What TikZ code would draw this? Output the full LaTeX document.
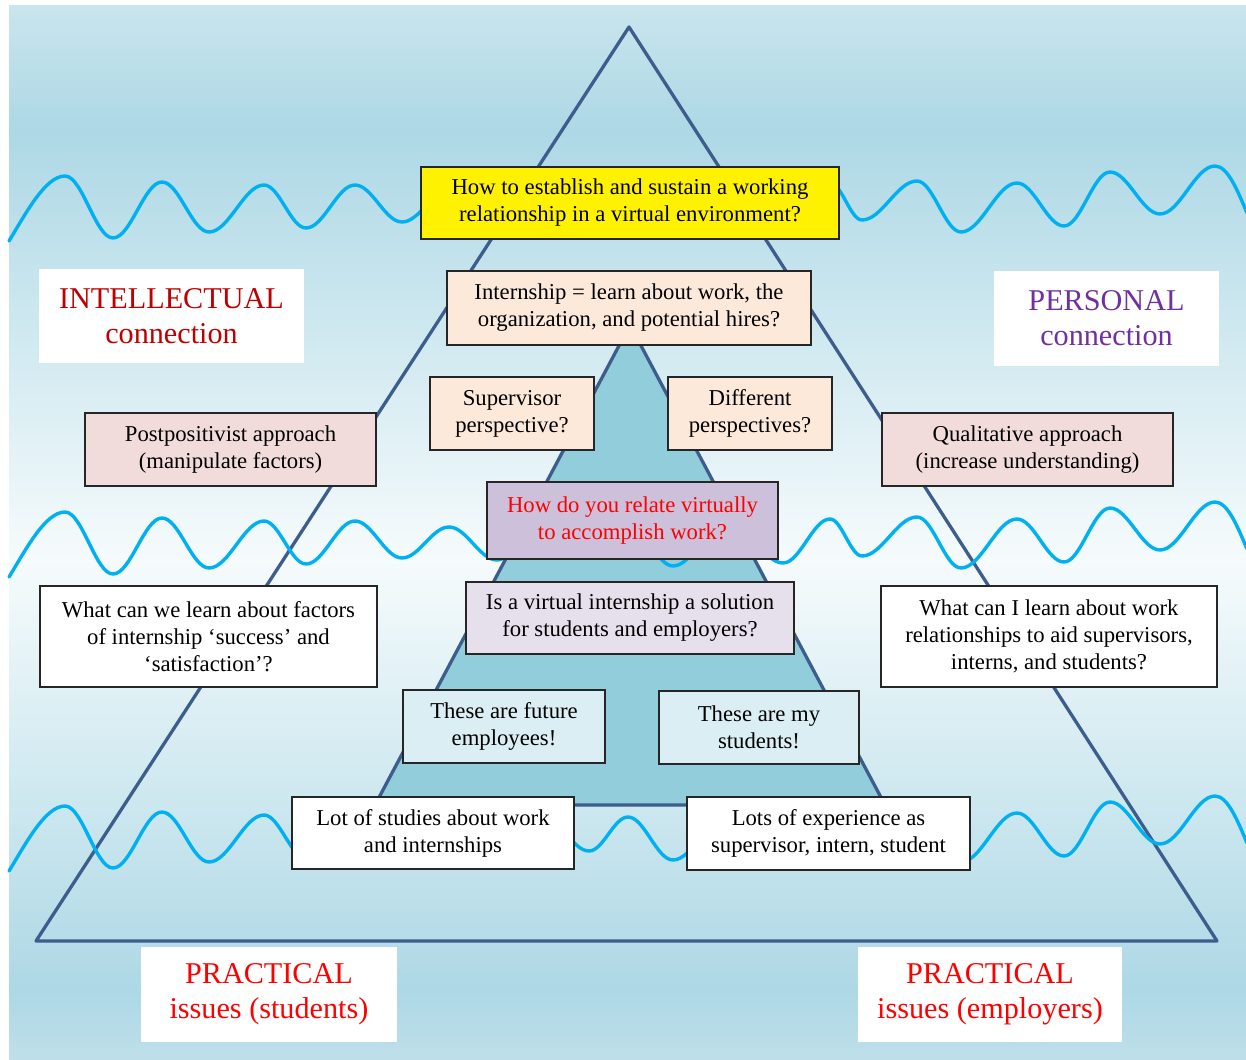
\documentclass[tikz,border=0pt]{standalone}
\usepackage{fontspec}
\setmainfont{Liberation Serif}

% palette
\definecolor{bgTop}{HTML}{C9E5ED}
\definecolor{bgBlue}{HTML}{ADD8E5}
\definecolor{bgLight}{HTML}{F6FBFC}
\definecolor{bgBot}{HTML}{BEDFE9}
\definecolor{triline}{HTML}{3D5E8C}
\definecolor{innerfill}{HTML}{92CDDC}
\definecolor{wavecol}{HTML}{00B0F0}
\definecolor{peach}{HTML}{FDE9D9}
\definecolor{rosefill}{HTML}{F2DCDB}
\definecolor{plum}{HTML}{CCC0DA}
\definecolor{lavender}{HTML}{E5E0EC}
\definecolor{paleaqua}{HTML}{DAEEF3}
\definecolor{darkred}{HTML}{C00000}
\definecolor{violet}{HTML}{7030A0}
\definecolor{brightred}{HTML}{FF0000}

\tikzset{
  qbox/.style={draw=black!85, line width=1.2pt, inner sep=0pt, align=center,
    font=\fontsize{22.7}{27}\selectfont, text=black},
  tag/.style={fill=white, inner sep=0pt, align=center,
    font=\fontsize{30.2}{35}\selectfont},
  wavepath/.style={draw=wavecol, line width=3.4pt, line cap=round, line join=round},
  triangle edge/.style={draw=triline, line width=3.3pt, line join=round},
}

\begin{document}
\begin{tikzpicture}[x=1pt,y=-1pt]
\useasboundingbox (0,0) rectangle (1246,1059);

% banded vertical gradient of the backdrop
\shade[top color=bgTop, bottom color=bgBlue] (9,6) rectangle (1246,131);
\shade[top color=bgBlue, bottom color=bgLight] (9,130) rectangle (1246,561);
\shade[top color=bgLight, bottom color=bgBlue] (9,560) rectangle (1246,991);
\shade[top color=bgBlue, bottom color=bgBot] (9,990) rectangle (1246,1059);

% outer and inner triangles
\coordinate (oA) at (629,27);
\coordinate (oL) at (36,941);
\coordinate (oR) at (1217,941);
\draw[triangle edge] (oA) -- (oL) -- (oR) -- cycle;
\coordinate (iA) at (630,325);
\coordinate (iL) at (375,805);
\coordinate (iR) at (885,805);
\filldraw[triangle edge, fill=innerfill] (iA) -- (iL) -- (iR) -- cycle;

% three copies of the same wavy line
\foreach \dy in {0,336,630}{
\begin{scope}[shift={(0,\dy)}]
\draw[wavepath] (9,241) .. controls (25,215) and (45,176) .. (65,176)
  cos (89,207) sin (113,238)
  cos (137.5,210) sin (162,182)
  cos (185.5,207) sin (209,232)
  cos (236.5,208.5) sin (264,185)
  cos (285,206.5) sin (306,228)
  cos (330.5,206.5) sin (355,185)
  cos (378.5,203.5) sin (402,222)
  cos (425.5,206.5) sin (449,191)
  cos (473,207.5) sin (497,224)
  cos (520,205) sin (543,186)
  cos (566,203.5) sin (589,221)
  cos (608.5,204) sin (628,187)
  cos (650.5,208.5) sin (673,230)
  cos (700.5,207) sin (728,184)
  cos (755.5,205.5) sin (783,227)
  cos (806.5,205) sin (830,183)
  cos (846,201.5) sin (862,220)
  cos (889.5,200.5) sin (917,181)
  cos (939,206.5) sin (961,232)
  cos (989,207.5) sin (1017,183)
  cos (1040.5,204.5) sin (1064,226)
  cos (1087,199) sin (1110,172)
  cos (1135,193) sin (1160,214)
  cos (1187.5,190) sin (1215,166)
  .. controls (1228,166) and (1238,192) .. (1247,213);
\end{scope}
}

% question boxes
\node[qbox, fill=yellow, minimum width=418, minimum height=72] (goal) at (630,203)
  {How to establish and sustain a working\\relationship in a virtual environment?};
\node[qbox, fill=peach, minimum width=364, minimum height=74] (intern) at (629,308)
  {Internship = learn about work, the\\organization, and potential hires?};
\node[qbox, fill=peach, minimum width=164, minimum height=73] (superv) at (512,413.5)
  {Supervisor\\perspective?};
\node[qbox, fill=peach, minimum width=164, minimum height=73] (differ) at (750,413.5)
  {Different\\perspectives?};
\node[qbox, fill=plum, minimum width=291, minimum height=77, text=brightred] (relate) at (632.5,520.5)
  {How do you relate virtually\\to accomplish work?};
\node[qbox, fill=lavender, minimum width=328, minimum height=72] (solution) at (630,618)
  {Is a virtual internship a solution\\for students and employers?};
\node[qbox, fill=paleaqua, minimum width=202, minimum height=73] (future) at (504,726.5)
  {These are future\\employees!};
\node[qbox, fill=paleaqua, minimum width=200, minimum height=73] (mystud) at (759,727.5)
  {These are my\\students!};
\node[qbox, fill=white, minimum width=282, minimum height=72] (studies) at (433,833)
  {Lot of studies about work\\and internships};
\node[qbox, fill=white, minimum width=283, minimum height=73] (exper) at (828.5,833.5)
  {Lots of experience as\\supervisor, intern, student};
\node[qbox, fill=rosefill, minimum width=291, minimum height=73] (postpos) at (230.5,449.5)
  {Postpositivist approach\\(manipulate factors)};
\node[qbox, fill=rosefill, minimum width=291, minimum height=73] (qualit) at (1027.5,449.5)
  {Qualitative approach\\(increase understanding)};
\node[qbox, fill=white, minimum width=337, minimum height=101] (factors) at (208.5,636.5)
  {What can we learn about factors\\of internship ‘success’ and\\‘satisfaction’?};
\node[qbox, fill=white, minimum width=336, minimum height=101] (relations) at (1049,636.5)
  {What can I learn about work\\relationships to aid supervisors,\\interns, and students?};

% corner tags
\node[tag, text=darkred, minimum width=265, minimum height=94] (intel) at (171.5,316)
  {INTELLECTUAL\\connection};
\node[tag, text=violet, minimum width=225, minimum height=95] (personal) at (1106.5,318.5)
  {PERSONAL\\connection};
\node[tag, text=brightred, minimum width=256, minimum height=95] (pracS) at (269,994.5)
  {PRACTICAL\\issues (students)};
\node[tag, text=brightred, minimum width=264, minimum height=95] (pracE) at (990,994.5)
  {PRACTICAL\\issues (employers)};
\end{tikzpicture}
\end{document}
